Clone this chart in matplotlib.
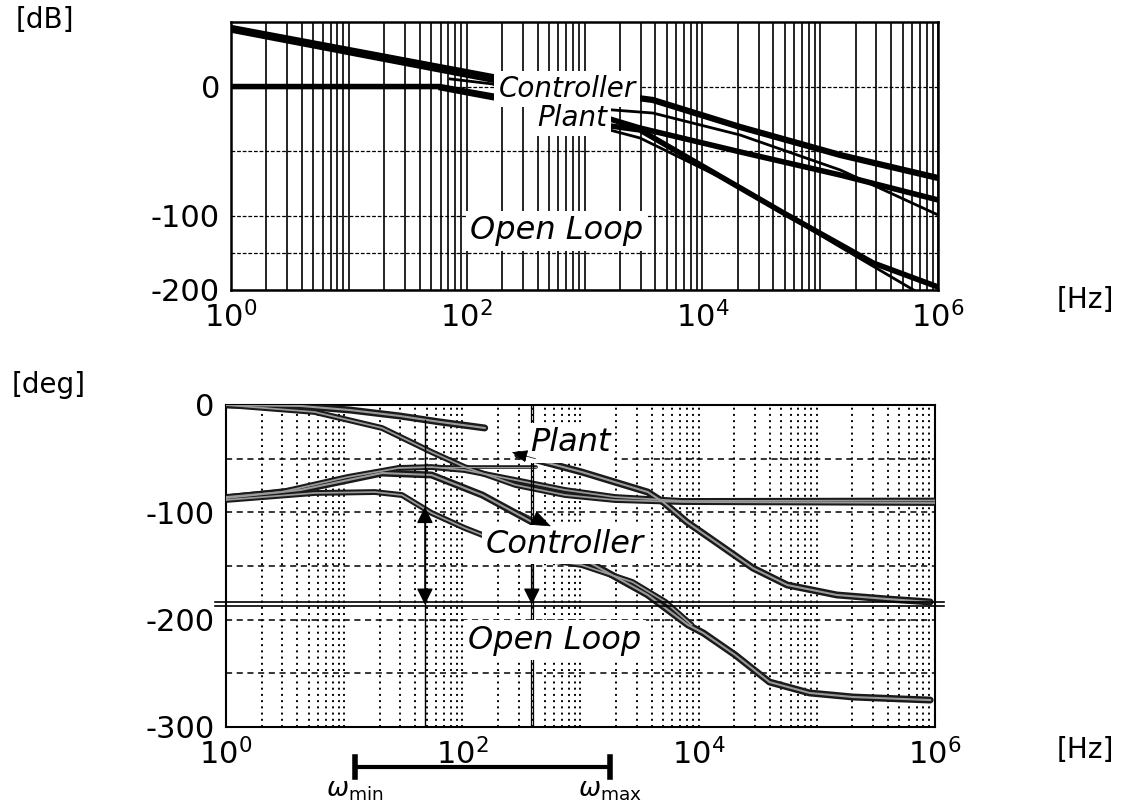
import numpy as np
import matplotlib.pyplot as plt
import matplotlib.transforms as mtransforms
from matplotlib.ticker import FixedLocator, LogLocator, NullFormatter

plt.rcParams['axes.unicode_minus'] = False

# ---- magnitude data (log10 of frequency in Hz, dB) ----
ctrl_mag_logf = np.array([0.0, 1.0, 2.22, 2.79, 3.58, 4.32, 5.17, 6.0])
ctrl_mag_db = np.array([45.4, 28.3, 7.4, -1.1, -10.4, -31.3, -53.0, -70.8])

plant_mag_logf = np.array([0.0, 1.77, 2.22, 2.79, 3.47, 4.32, 5.17, 6.0])
plant_mag_db = np.array([0.0, 0.0, -7.3, -13.5, -32.1, -50.6, -68.5, -87.8])

plant2_mag_logf = np.array([1.77, 2.22, 2.79, 3.58, 4.32, 5.17, 6.0])
plant2_mag_db = np.array([-1.9, -9.6, -15.0, -20.5, -37.5, -64.6, -99.4])

ol_mag_logf = np.array([0.0, 2.22, 2.79, 3.03, 3.47, 4.69, 5.45, 6.0])
ol_mag_db = np.array([43.8, 5.1, -10.4, -28.2, -33.6, -97.9, -163.7, -196.0])

ol2_mag_logf = np.array([1.86, 2.22, 3.05, 3.47, 4.32, 5.17, 5.82])
ol2_mag_db = np.array([5.9, 2.0, -29.7, -39.8, -77.7, -142.1, -202.6])

# ---- phase data (log10 of frequency in Hz, deg) ----
plant_ph_a_logf = np.array([0.0, 0.63, 1.05, 1.47, 1.81, 2.19])
plant_ph_a_deg = np.array([0.0, -0.9, -4.7, -10.2, -15.8, -21.4])
plant_ph_b_logf = np.array([2.47, 3.01, 3.57, 3.70, 3.90, 4.18, 4.46, 4.75, 5.17, 5.59, 5.96])
plant_ph_b_deg = np.array([-46.6, -62.4, -81.1, -90.4, -109.0, -130.4, -151.9, -167.7, -177.0, -180.7, -183.5])

pole_ph_logf = np.array([0.0, 0.75, 1.32, 1.74, 2.02, 2.45, 2.87, 3.29, 3.86, 6.0])
pole_ph_deg = np.array([0.0, -6.5, -21.4, -43.8, -57.8, -74.5, -83.9, -88.5, -90.4, -91.3])

bump_ph_logf = np.array([0.0, 0.47, 1.03, 1.46, 1.74, 2.02, 2.45, 2.87, 3.29, 3.86, 6.0])
bump_ph_deg = np.array([-85.7, -81.1, -67.1, -58.7, -57.8, -60.6, -69.9, -79.2, -85.7, -89.4, -89.0])

ctrl_ph_logf = np.array([0.0, 0.63, 1.32, 1.74, 2.17, 2.59, 3.01, 3.57, 3.91, 4.04, 4.31, 4.60, 4.94, 5.31, 5.96])
ctrl_ph_deg = np.array([-86.6, -79.2, -63.4, -65.2, -83.9, -109.0, -142.6, -177.0, -204.9, -212.4,
                        -232.9, -258.1, -268.3, -272.1, -274.9])

ol_ph_logf = np.array([0.0, 0.75, 1.26, 1.49, 1.74, 2.02, 2.45, 2.73, 3.01, 3.44, 3.72, 3.94])
ol_ph_deg = np.array([-88.5, -82.0, -81.1, -83.9, -100.6, -114.6, -133.2, -144.4, -149.1, -164.9, -183.5, -204.9])

peak_logf = np.array([1.46, 2.62])
peak_deg = np.array([-58.0, -58.0])
crit_deg = [-183.5, -187.3]

f_mark1, f_mark2 = 48.3, 388.0
w_min, w_max = 12.3, 1778.0

top_ticks = [1, 1e2, 1e4, 1e6]
top_labels = ['$10^{0}$', '$10^{2}$', '$10^{4}$', '$10^{6}$']


def fwd(v):
    v = np.asarray(v, dtype=float)
    return np.where(v >= -100, v, -100 + (v + 100) * 0.575)


def inv(u):
    u = np.asarray(u, dtype=float)
    return np.where(u >= -100, u, -100 + (u + 100) / 0.575)


def band(ax, lf, deg, lw=4.2, z=3):
    # scanned double-edged curve
    ax.plot(10 ** lf, deg, color='#1a1a1a', lw=lw, solid_capstyle='round', zorder=z)
    ax.plot(10 ** lf, deg, color='#9a9a9a', lw=lw * 0.3, zorder=z + 0.1)


fig = plt.figure(figsize=(11.23, 8.05), dpi=100)
ax1 = fig.add_axes([0.2057, 0.6398, 0.6296, 0.3329])
ax2 = fig.add_axes([0.2012, 0.0969, 0.6313, 0.4000])

# ---------------- magnitude ----------------
ax1.set_xscale('log')
ax1.set_xlim(1, 1e6)
ax1.set_yscale('function', functions=(fwd, inv))
ax1.set_ylim(-200, 50)
ax1.set_yticks([0, -100, -200])
ax1.set_yticks([-150, -50], minor=True)
ax1.yaxis.set_minor_formatter(NullFormatter())
ax1.xaxis.set_major_locator(FixedLocator(top_ticks))
ax1.set_xticklabels(top_labels)
ax1.xaxis.set_minor_locator(LogLocator(base=10, subs=np.arange(1, 10), numticks=20))
ax1.xaxis.set_minor_formatter(NullFormatter())
ax1.grid(axis='x', which='both', color='k', lw=1.2, ls='-')
ax1.grid(axis='y', which='both', color='k', lw=0.9, ls=(0, (3, 1.5)))
ax1.tick_params(which='both', length=0, labelsize=22, pad=8)

ax1.plot(10 ** ctrl_mag_logf, ctrl_mag_db, color='k', lw=4.5, zorder=3)
ax1.plot(10 ** plant_mag_logf, plant_mag_db, color='k', lw=4.0, zorder=3)
ax1.plot(10 ** plant2_mag_logf, plant2_mag_db, color='k', lw=2.0, zorder=3)
ax1.plot(10 ** ol_mag_logf, ol_mag_db, color='k', lw=4.0, zorder=3)
ax1.plot(10 ** ol2_mag_logf, ol2_mag_db, color='k', lw=2.0, zorder=3)

box = dict(fc='white', ec='none', pad=3)
ax1.text(711, -8.1, 'Controller', style='italic', fontsize=20, ha='center', va='baseline', bbox=box, zorder=5)
ax1.text(785, -30.5, 'Plant', style='italic', fontsize=20, ha='center', va='baseline', bbox=box, zorder=5)
ax1.text(585, -120.5, 'Open Loop', style='italic', fontsize=23, ha='center', va='center', bbox=box, zorder=5)

for sp in ax1.spines.values():
    sp.set_linewidth(1.8)

# ---------------- phase ----------------
ax2.set_xscale('log')
ax2.set_xlim(1, 1e6)
ax2.set_ylim(-300, 0)
ax2.set_yticks([0, -100, -200, -300])
ax2.set_yticks(np.arange(-250, 0, 50), minor=True)
ax2.yaxis.set_minor_formatter(NullFormatter())
ax2.xaxis.set_major_locator(FixedLocator(top_ticks))
ax2.set_xticklabels(top_labels)
ax2.xaxis.set_minor_locator(LogLocator(base=10, subs=np.arange(1, 10), numticks=20))
ax2.xaxis.set_minor_formatter(NullFormatter())
ax2.grid(axis='x', which='both', color='k', lw=1.4, ls=(0, (1, 2.2)))
ax2.grid(axis='y', which='both', color='k', lw=1.1, ls=(0, (4, 3)))
ax2.tick_params(which='both', length=0, labelsize=22, pad=8)

band(ax2, pole_ph_logf, pole_ph_deg)
band(ax2, bump_ph_logf, bump_ph_deg)
band(ax2, plant_ph_a_logf, plant_ph_a_deg, lw=5)
band(ax2, plant_ph_b_logf, plant_ph_b_deg, lw=5)
band(ax2, ctrl_ph_logf, ctrl_ph_deg, lw=5)
band(ax2, ol_ph_logf, ol_ph_deg)
band(ax2, peak_logf, peak_deg, lw=2.6)

# -180 reference (double line)
for d in crit_deg:
    ax2.plot([10 ** -0.09, 10 ** 6.08], [d, d], color='k', lw=1.2, clip_on=False, zorder=4)

# frequency markers and margin arrows
ax2.plot([f_mark1, f_mark1], [-14, -300], color='k', lw=1.0, zorder=4)
ax2.plot([f_mark2 / 1.02, f_mark2 / 1.02], [0, -300], color='k', lw=0.9, zorder=4)
ax2.plot([f_mark2 * 1.02, f_mark2 * 1.02], [0, -300], color='k', lw=0.9, zorder=4)
ax2.annotate('', xy=(f_mark1, -95), xytext=(f_mark1, -186),
             arrowprops=dict(arrowstyle='<|-|>,head_length=1.0,head_width=0.5', color='k', lw=1,
                             shrinkA=0, shrinkB=0), zorder=4)
ax2.annotate('', xy=(f_mark2, -186), xytext=(f_mark2, -142),
             arrowprops=dict(arrowstyle='-|>,head_length=1.0,head_width=0.5', color='k', lw=1,
                             shrinkA=0, shrinkB=0), zorder=4)
ax2.annotate('', xy=(10 ** 2.75, -113), xytext=(10 ** 2.5, -100),
             arrowprops=dict(arrowstyle='-|>,head_length=1.3,head_width=0.5', color='k', lw=0.5,
                             shrinkA=0, shrinkB=0), zorder=6)
ax2.annotate('', xy=(10 ** 2.42, -44), xytext=(10 ** 2.62, -50),
             arrowprops=dict(arrowstyle='-|>,head_length=1.0,head_width=0.4', color='k', lw=0.5,
                             shrinkA=0, shrinkB=0), zorder=6)

ax2.text(815, -35.4, 'Plant', style='italic', fontsize=23, ha='center', va='center', bbox=box, zorder=5)
ax2.text(739, -130, 'Controller', style='italic', fontsize=23, ha='center', va='center', bbox=box, zorder=5)
ax2.text(608, -219, 'Open Loop', style='italic', fontsize=23, ha='center', va='center', bbox=box, zorder=5)

for sp in ax2.spines.values():
    sp.set_linewidth(1.5)

# omega range bar below the phase axis
trans = mtransforms.blended_transform_factory(ax2.transData, ax2.transAxes)
ax2.plot([w_min, w_max], [-0.124, -0.124], transform=trans, clip_on=False, color='k', lw=3)
for w in (w_min, w_max):
    ax2.plot([w, w], [-0.093, -0.155], transform=trans, clip_on=False, color='k', lw=4)
ax2.text(w_min, -0.196, r'$\omega_{\mathrm{min}}$', transform=trans, ha='center', va='center', fontsize=19)
ax2.text(w_max, -0.196, r'$\omega_{\mathrm{max}}$', transform=trans, ha='center', va='center', fontsize=19)

# unit labels
fig.text(0.040, 0.975, '[dB]', fontsize=20, ha='center', va='center')
fig.text(0.043, 0.522, '[deg]', fontsize=20, ha='center', va='center')
fig.text(0.966, 0.627, '[Hz]', fontsize=20, ha='center', va='center')
fig.text(0.966, 0.068, '[Hz]', fontsize=20, ha='center', va='center')

fig.savefig('out.png', dpi=100)
